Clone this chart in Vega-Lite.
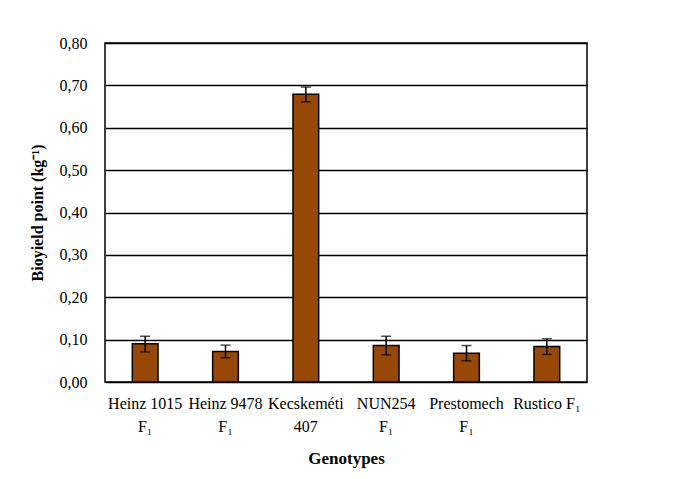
{
  "$schema": "https://vega.github.io/schema/vega-lite/v6.json",
  "width": 482,
  "height": 339,
  "autosize": "none",
  "padding": {"left": 105, "top": 43, "right": 92, "bottom": 97},
  "background": "white",
  "config": {
    "font": "Liberation Serif",
    "view": {"stroke": "black", "strokeWidth": 1.5},
    "axis": {"labelFont": "Liberation Serif", "titleFont": "Liberation Serif", "labelColor": "black", "titleColor": "black"}
  },
  "data": {
    "values": [
      {"genotype": "Heinz 1015|F₁", "mean": 0.090, "lo": 0.071, "hi": 0.108},
      {"genotype": "Heinz 9478|F₁", "mean": 0.072, "lo": 0.057, "hi": 0.087},
      {"genotype": "Kecskeméti|407", "mean": 0.679, "lo": 0.661, "hi": 0.696},
      {"genotype": "NUN254|F₁", "mean": 0.086, "lo": 0.064, "hi": 0.108},
      {"genotype": "Prestomech|F₁", "mean": 0.068, "lo": 0.050, "hi": 0.086},
      {"genotype": "Rustico F₁", "mean": 0.084, "lo": 0.065, "hi": 0.102}
    ]
  },
  "encoding": {
    "x": {
      "field": "genotype", "type": "nominal", "sort": null,
      "scale": {"paddingInner": 0.68, "paddingOuter": 0.34},
      "axis": {
        "title": "Genotypes", "titleFontSize": 17, "titleFontWeight": "bold", "titlePadding": 16,
        "labelAngle": 0, "labelFontSize": 16, "labelExpr": "split(datum.value, '|')", "labelLineHeight": 23,
        "labelPadding": 13, "ticks": false, "domain": false
      }
    }
  },
  "layer": [
    {
      "mark": {"type": "bar", "color": "#974806", "stroke": "black", "strokeWidth": 1.5},
      "encoding": {
        "y": {
          "field": "mean", "type": "quantitative",
          "scale": {"domain": [0, 0.8]},
          "axis": {
            "title": "Bioyield point (kg⁻¹)", "titleFontSize": 16, "titleFontWeight": "bold", "titlePadding": 14,
            "values": [0, 0.1, 0.2, 0.3, 0.4, 0.5, 0.6, 0.7, 0.8],
            "labelExpr": "replace(format(datum.value, '.2f'), '.', ',')",
            "labelFontSize": 16, "labelPadding": 18, "ticks": false, "domain": false,
            "grid": true, "gridColor": "black", "gridWidth": 1.5, "gridOpacity": 1
          }
        }
      }
    },
    {
      "mark": {"type": "rule", "color": "black", "strokeWidth": 1.5},
      "encoding": {
        "y": {"field": "lo", "type": "quantitative"},
        "y2": {"field": "hi"}
      }
    },
    {
      "mark": {"type": "tick", "color": "black", "thickness": 1.5, "size": 10, "orient": "horizontal"},
      "encoding": {"y": {"field": "lo", "type": "quantitative"}}
    },
    {
      "mark": {"type": "tick", "color": "black", "thickness": 1.5, "size": 10, "orient": "horizontal"},
      "encoding": {"y": {"field": "hi", "type": "quantitative"}}
    }
  ]
}
